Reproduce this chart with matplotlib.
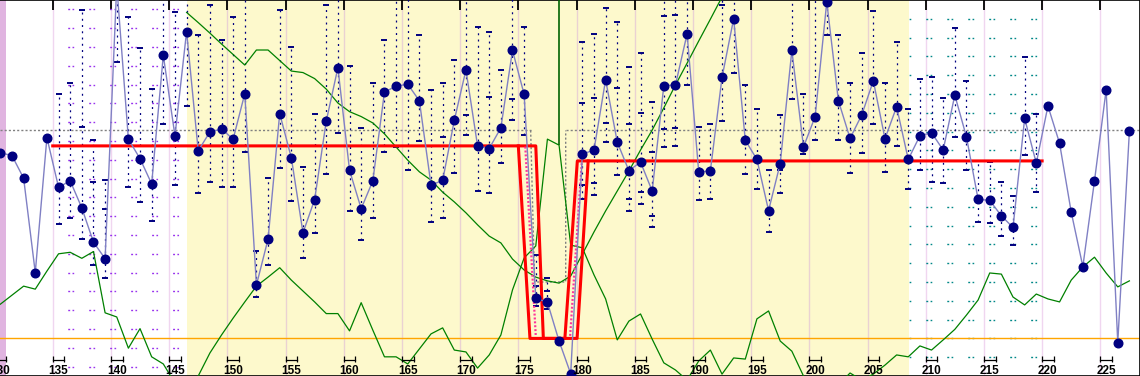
import numpy as np
import matplotlib
matplotlib.use('Agg')
import matplotlib.pyplot as plt

plt.rcParams['lines.scale_dashes'] = False
plt.rcParams['font.family'] = ['Liberation Sans', 'DejaVu Sans']

nan = np.nan

# daily values (day number -> value on a 0-100 scale)
days = np.arange(130, 228)
blue = [59.4, 58.6, 52.6, 27.5, 63.4, 50.2, 51.9, 44.7, 35.6, 31.2,
        104, 63.0, 57.8, 51.1, 85.3, 63.9, 91.6, 59.9, 64.9, 65.7,
        63.0, 75.1, 24.2, 36.4, 69.8, 58.0, 38.1, 46.9, 67.8, 82.0,
        54.7, 44.5, 51.9, 75.5, 77.1, 77.6, 73.2, 50.8, 52.0, 68.0,
        81.4, 61.2, 60.5, 66.0, 86.6, 74.9, 20.7, 19.6, 9.3, 0.6,
        59.0, 60.1, 78.8, 62.2, 54.6, 56.9, 49.2, 77.2, 77.4, 91.0,
        54.2, 54.6, 79.4, 95.0, 62.7, 57.6, 44.0, 56.5, 86.6, 60.9,
        69.0, 99.5, 73.2, 63.2, 69.4, 78.5, 63.1, 71.6, 57.6, 63.9,
        64.7, 60.1, 74.7, 63.6, 47.0, 46.7, 42.6, 39.5, 68.5, 56.6,
        71.8, 61.9, 43.6, 29.1, 51.9, 76.1, 8.9, 65.2]

green_low = [19.1, 21.5, 23.9, 23.1, 27.9, 32.5, 32.9, 31.3, 33.1, 16.8,
             15.7, 7.4, 12.6, 5.1, 3.2, -1.9, -4.3, 0.0, 6.1, 10.9,
             15.4, 19.7, 23.9, 26.3, 28.8, 25.5, 22.6, 19.7, 16.6, 16.6,
             12.0, 19.5, 12.2, 5.1, 5.1, 3.2, 7.2, 11.2, 12.8, 6.9,
             6.4, 2.1, 5.6, 10.9, 22.9, 31.4, 34.6, 63.0, 61.4, 34.8,
             34.1, 26.9, 20.5, 9.6, 14.6, 16.5, 9.8, 3.5, 1.6, -1.1,
             4.0, 6.9, 0.5, 4.8, 4.5, 15.2, 17.3, 9.3, 6.6, 0.0,
             -3.7, -5.1, -2.4, 0.8, -1.1, 0.5, 2.9, 5.6, 5.1, 8.0,
             6.9, 9.6, 12.4, 16.2, 20.2, 27.4, 27.1, 21.0, 18.9, 21.8,
             20.5, 19.7, 25.5, 29.0, 31.6, 27.4, 23.7, 25.3]

green_up_days = np.arange(146, 193)
green_up = [96.7, 94.0, 91.2, 88.3, 85.5, 82.7, 86.7, 86.7, 83.9, 81.1,
            80.7, 79.1, 76.3, 72.6, 70.3, 69.0, 67.3, 64.4, 60.9, 57.4,
            54.3, 52.1, 48.9, 46.3, 43.4, 40.2, 37.2, 35.4, 31.1, 28.2,
            26.3, 25.3, 24.7, 26.6, 32.4, 38.3, 43.9, 49.2, 54.5, 60.1,
            65.4, 71.3, 77.4, 83.2, 89.1, 94.9, 100.8]

spike_day = 178

range_days = np.arange(135, 220)
range_hi = [75.0, 77.9, 97.3, 62.8, 52.1, 102, 95.5, 87.2, 76.3, 102,
            96.8, 102, 90.7, 98.7, 89.4, 95.5, 102, 33.2, 52.7, 97.3,
            87.5, 55.6, 69.7, 98.7, 102, 82.4, 66.0, 77.9, 89.4, 102,
            102, 90.7, 76.1, 77.9, 84.0, 102, 92.8, 91.5, 81.4, 102,
            92.8, 32.2, 26.1, nan, nan, 88.8, 91.0, 97.9, 94.1, 82.2,
            85.9, 72.9, 102, 102, 102, 66.2, 67.0, 102, 102, 77.4,
            71.0, 54.8, 69.4, 102, 75.0, 102, 102, 90.7, 77.9, 85.9,
            97.1, 77.9, 88.8, 71.0, 79.0, 79.5, 73.9, 92.6, 78.5, 57.2,
            56.9, 51.6, 47.9, 84.8, 69.7]
range_lo = [40.4, 42.0, 36.4, 29.5, 26.1, 83.5, 50.3, 46.3, 41.2, 67.0,
            50.8, 71.8, 48.7, 51.6, 50.3, 50.3, 59.6, 21.0, 29.5, 55.3,
            46.5, 31.4, 38.0, 53.7, 64.6, 43.9, 36.2, 42.0, 59.6, 60.9,
            54.8, 62.5, 41.0, 42.0, 54.0, 64.1, 49.2, 48.7, 56.6, 68.1,
            64.1, 18.6, 17.8, nan, nan, 47.1, 48.1, 62.2, 53.5, 43.9,
            45.7, 39.6, 60.9, 61.2, 77.4, 46.8, 47.1, 67.8, 80.6, 53.7,
            49.7, 38.3, 48.7, 73.7, 59.0, 62.8, 90.7, 62.8, 54.0, 59.3,
            67.0, 54.3, 61.2, 49.7, 54.8, 51.6, 51.3, 63.6, 54.8, 41.0,
            40.7, 37.2, 34.8, 58.8, 48.9]
range_mid_a = [nan, nan, 66.2, 51.6, 44.4, nan, nan, nan, nan, nan,
               nan, nan, nan, nan, nan, nan, nan, nan, nan, nan,
               nan, nan, nan, nan, nan, nan, nan, nan, nan, nan,
               nan, nan, nan, 63.6, nan, 69.4, nan, 74.3, nan, 73.6,
               nan, 23.9, 22.6, nan, nan, 72.6, 73.9, 67.2, 76.5, 67.0,
               69.9, 59.7, 65.6, 65.9, nan, nan, nan, nan, nan, nan,
               nan, nan, 54.8, nan, nan, nan, nan, nan, nan, nan,
               nan, nan, nan, nan, nan, nan, nan, nan, nan, nan,
               nan, nan, nan, nan, nan]
range_mid_b = [nan, nan, nan, nan, nan, nan, nan, nan, nan, nan,
               nan, nan, nan, nan, nan, nan, nan, nan, nan, nan,
               nan, nan, nan, nan, nan, nan, nan, nan, nan, nan,
               nan, nan, nan, nan, nan, nan, nan, nan, nan, nan,
               nan, nan, nan, nan, nan, 50.8, 51.4, nan, nan, 47.2,
               48.9, 42.6, 95.7, 96.0, nan, nan, nan, 98.7, nan, nan,
               nan, nan, nan, nan, nan, nan, nan, nan, nan, nan,
               nan, nan, nan, nan, nan, nan, nan, nan, nan, nan,
               nan, nan, nan, nan, nan]

# reference levels and the target channel
ref_level = 65.3
base_level = 10.0
notch_x = [176.06, 176.4, 179.07, 179.07]
notch_y = [ref_level, 25.0, 25.0, ref_level]
red_a_x = [135.0, 176.5, 177.15, 179.0, 180.07, 220.0]
red_a_y = [61.2, 61.2, 10.0, 10.0, 57.2, 57.2]
red_b_x = [175.0, 176.0, 180.05, 181.0]
red_b_y = [61.2, 10.0, 10.0, 57.2]
pink_l_x, pink_l_y = [175.6, 176.5], [61.0, 10.6]
pink_r_x, pink_r_y = [180.45, 179.45], [56.6, 10.6]

season = (146.5, 208.57)
ticks = list(range(130, 230, 5))
x_lo, x_hi = 130.47, 228.41

fig = plt.figure(figsize=(11.4, 3.76), dpi=100)
ax = fig.add_axes([0, 0, 1, 1])

ax.axvspan(season[0], season[1], color='#fdf9cc', zorder=0, lw=0)
ax.axvspan(x_lo, 131.0, color='#e0b4e0', zorder=0, lw=0)

for t in ticks:
    c = '#ead2d2' if season[0] < t < season[1] else '#f0d6f0'
    ax.axvline(t, color=c, lw=1, zorder=1)

# dotted row grids in the white parts
for y in np.arange(2.5, 100, 5):
    ax.hlines(y, 135, season[0], colors='#9933ee', lw=1.0,
              linestyles=(4.5, (1.4, 1.7, 1.2, 10.8)), zorder=2)
for y in np.arange(5, 100, 5):
    ax.hlines(y, season[1], 220, colors='#008888', lw=1.0,
              linestyles=(3.0, (1.4, 1.7, 1.2, 10.8)), zorder=2)

# gray reference with notch
ax.plot([x_lo, notch_x[0]], [ref_level, ref_level], color='#808080',
        lw=1, ls=(0, (1.5, 1.5)), zorder=2)
ax.plot(notch_x, notch_y, color='#808080', lw=1, ls=(0, (1.5, 1.5)), zorder=2)
ax.plot([notch_x[-1], x_hi], [ref_level, ref_level], color='#808080',
        lw=1, ls=(0, (1.5, 1.5)), zorder=2)
ax.axhline(base_level, color='#ffa500', lw=1, zorder=2)

# daily ranges
rx = range_days + 0.5
ax.vlines(rx, range_lo, range_hi, colors='#000080', lw=0.9,
          linestyles=(0, (1.4, 3.1)), zorder=3)
for vals in (range_hi, range_lo, range_mid_a, range_mid_b):
    ax.plot(rx, vals, ls='none', marker='_', ms=4.2, mew=1.4, color='#000080', zorder=3)

# green lines
ax.plot(days + 0.5, green_low, color='#008000', lw=0.9, zorder=4)
ax.plot(green_up_days + 0.5, green_up, color='#008000', lw=0.9, zorder=4)
ax.vlines(spike_day + 0.5, green_low[spike_day - 130], 100, colors='#006400', lw=1.2, zorder=4)

# channel
ax.plot(red_a_x, red_a_y, color='#ff0000', lw=2.2, zorder=5)
ax.plot(red_b_x, red_b_y, color='#ff0000', lw=2.2, zorder=5)
ax.plot(pink_l_x, pink_l_y, color='#ff3399', lw=1.6, ls=(0, (1.4, 1.4)), zorder=5)
ax.plot(pink_r_x, pink_r_y, color='#ff3399', lw=1.6, ls=(0, (1.4, 1.4)), zorder=5)

# main series
ax.plot(days + 0.5, blue, color='#8080c4', lw=1, zorder=6)
ax.plot(days + 0.5, blue, ls='none', marker='o', ms=6.2, color='#000080', zorder=7)

# axis decoration
ax.set_xticks(ticks)
ax.set_yticks([])
ax.tick_params(axis='x', direction='in', top=True, bottom=False, length=7.2,
               width=1.3, labelbottom=False, color='black')
for t in ticks:
    ax.plot([t, t + 1], [4.3, 4.3], color='black', lw=0.9, zorder=8)
    ax.vlines([t, t + 1], 3.7, 5.4, colors='black', lw=0.9, zorder=8)
    ax.text(t + 0.5, 0.5, str(t), ha='center', va='baseline', fontsize=8.5,
            fontweight='bold', color='black', zorder=9)

# limits last: set_xticks would otherwise widen the view
ax.set_xlim(x_lo, x_hi)
ax.set_ylim(0, 100)

for s in ['top', 'bottom', 'right']:
    ax.spines[s].set_color('black')
    ax.spines[s].set_linewidth(1.2)
ax.spines['left'].set_visible(False)

fig.savefig('out.png', dpi=100)
